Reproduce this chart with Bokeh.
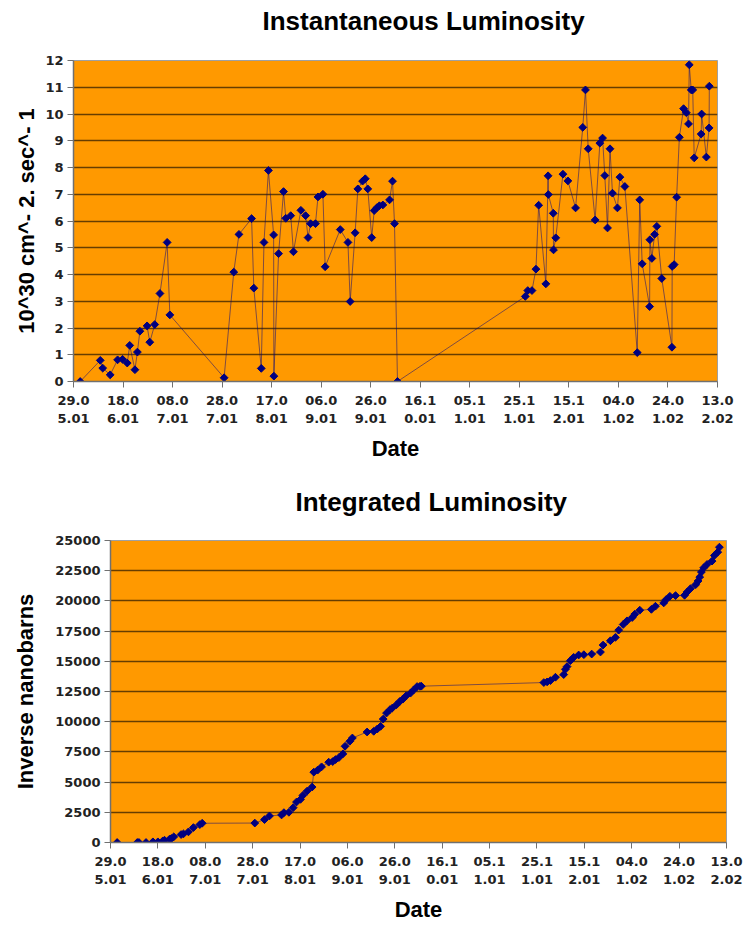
import numpy as np
from bokeh.plotting import figure
from bokeh.models import FixedTicker, Range1d, Title
from bokeh.embed import file_html
from bokeh.resources import INLINE

# ---- data ----
tick_days = [0, 20, 40, 60, 80, 100, 120, 140, 160, 180, 200, 220, 240, 260]
tick_labels = ["29.0\n5.01", "18.0\n6.01", "08.0\n7.01", "28.0\n7.01", "17.0\n8.01",
               "06.0\n9.01", "26.0\n9.01", "16.1\n0.01", "05.1\n1.01", "25.1\n1.01",
               "15.1\n2.01", "04.0\n1.02", "24.0\n1.02", "13.0\n2.02"]

inst_day = [2.7, 10.8, 11.8, 14.8, 17.8, 19.8, 21.7, 22.7, 24.8, 25.8, 26.8, 29.7, 30.8, 32.8,
            34.9, 37.8, 38.9, 60.8, 64.7, 66.8, 71.9, 72.8, 75.8, 76.9, 78.7, 80.8, 80.9, 82.8,
            84.8, 85.7, 87.7, 88.8, 91.8, 93.7, 94.7, 95.7, 97.7, 98.7, 100.7, 101.6, 107.7,
            110.8, 111.7, 113.7, 114.8, 116.7, 117.8, 118.8, 120.4, 121.4, 122.5, 123.5, 124.9,
            127.6, 128.8, 129.6, 130.8, 182.4, 183.4, 185.1, 186.7, 187.8, 190.7, 191.6, 191.7,
            193.7, 193.8, 194.7, 197.6, 199.6, 202.7, 205.6, 206.7, 207.8, 210.6, 212.5, 213.6,
            214.5, 215.6, 216.6, 217.6, 219.6, 220.6, 222.6, 227.6, 228.6, 229.6, 232.6, 232.7,
            233.5, 234.6, 235.5, 237.5, 241.6, 241.7, 242.5, 243.5, 244.6, 246.3, 247.4, 248.3,
            248.6, 249.4, 250.0, 250.6, 253.4, 253.6, 255.5, 256.6, 256.7]
inst_lum = [0.0, 0.79, 0.5, 0.25, 0.81, 0.83, 0.69, 1.35, 0.44, 1.1, 1.88, 2.08, 1.47, 2.13,
            3.29, 5.2, 2.49, 0.14, 4.09, 5.5, 6.09, 3.49, 0.49, 5.2, 7.89, 5.48, 0.2, 4.78,
            7.1, 6.1, 6.2, 4.85, 6.4, 6.2, 5.38, 5.9, 5.9, 6.9, 7.0, 4.29, 5.68,
            5.2, 2.99, 5.56, 7.2, 7.49, 7.58, 7.2, 5.38, 6.39, 6.5, 6.57, 6.6,
            6.79, 7.49, 5.9, 0.0, 3.18, 3.4, 3.4, 4.2, 6.59, 3.65, 7.69, 6.99,
            6.29, 4.92, 5.37, 7.75, 7.5, 6.49, 9.5, 10.9, 8.7, 6.04, 8.91, 9.1,
            7.7, 5.74, 8.7, 7.04, 6.49, 7.64, 7.29, 1.08, 6.79, 4.4, 2.8, 5.3,
            4.6, 5.5, 5.8, 3.85, 1.28, 4.3, 4.37, 6.89, 9.13, 10.2, 10.05, 9.63,
            11.84, 10.9, 10.9, 8.36, 9.25, 10.0, 8.39, 9.48, 11.04]

int_day = [2.8, 11.3, 12.0, 15.0, 17.9, 20.0, 22.1, 22.8, 24.9, 25.7, 26.7, 29.8, 30.8, 32.9,
           35.0, 37.7, 38.7, 60.9, 65.0, 67.1, 72.2, 73.2, 75.3, 77.1, 78.5, 80.2, 81.2, 83.0,
           85.1, 85.8, 87.4, 89.1, 92.1, 93.8, 95.0, 96.4, 98.1, 99.0, 101.0, 102.1, 108.3,
           111.1, 112.6, 114.0, 115.1, 116.5, 117.9, 118.9, 120.7, 122.1, 123.4, 124.8, 126.6,
           128.0, 129.4, 130.6, 131.2, 182.9, 184.3, 185.7, 187.8, 191.3, 192.0, 192.7, 194.1,
           195.5, 197.6, 199.8, 203.1, 206.8, 207.9, 211.0, 213.1, 214.5, 216.4, 218.0, 220.2,
           221.3, 223.4, 228.3, 230.0, 233.5, 234.5, 236.1, 238.5, 242.3, 243.4, 244.8, 247.0,
           248.0, 248.7, 249.4, 250.4, 251.8, 253.9, 254.9, 256.3, 257.0]
int_lum = [0, 0, 0, 0, 55, 55, 137, 190, 275, 330, 467, 660, 714, 880,
           1236, 1483, 1593, 1610, 1895, 2198, 2280, 2472, 2500, 2884, 3351, 3571, 3900, 4258,
           4588, 5824, 5988, 6263, 6648, 6700, 6868, 7032, 7334, 7966, 8378, 8653, 9148,
           9203, 9395, 9615, 10219, 10713, 10988, 11125, 11400, 11675, 11867, 12142, 12362,
           12636, 12911, 12930, 12940, 13240, 13295, 13405, 13680, 13900, 14340, 14560, 15054,
           15328, 15521, 15548, 15600, 15768, 16345, 16702, 16977, 17581, 18048, 18350, 18625,
           18900, 19229, 19300, 19559, 19833, 20108, 20383, 20438, 20465, 20740, 21015, 21344,
           21646, 21976, 22388, 22745, 23020, 23295, 23762, 24036, 24448]

inst_yticks = list(range(0, 13))
int_yticks = [0, 2500, 5000, 7500, 10000, 12500, 15000, 17500, 20000, 22500, 25000]

ORANGE = "#FF9900"
NAVY = "#000080"


def make_fig(title, ylabel, height, left, right, top, bottom, ymax, yticks,
             title_offset, gap, ylabel_standoff):
    p = figure(width=746, height=height, output_backend="svg", toolbar_location=None,
               x_range=Range1d(0, 260), y_range=Range1d(0, ymax),
               min_border_left=left, min_border_right=right,
               min_border_top=top, min_border_bottom=bottom)
    # spacer between the frame and the title
    p.add_layout(Title(text=" ", text_font_size="1px", standoff=gap), "above")
    p.title.text = title
    p.title.text_font = "Liberation Sans"
    p.title.text_font_style = "bold"
    p.title.text_font_size = "26px"
    p.title.text_color = "black"
    p.title.align = "left"
    p.title.offset = title_offset
    p.title.standoff = 0
    p.background_fill_color = ORANGE
    p.border_fill_color = "white"
    p.outline_line_color = "#a0a0a0"
    p.xgrid.visible = False
    p.ygrid.grid_line_color = "#000000"
    p.ygrid.grid_line_alpha = 0.6
    p.ygrid.grid_line_width = 1.5

    for ax in (p.xaxis[0], p.yaxis[0]):
        ax.axis_line_color = "#707070"
        ax.axis_line_width = 1.5
        ax.major_tick_line_color = "#707070"
        ax.major_tick_out = 6
        ax.major_tick_in = 0
        ax.minor_tick_line_color = None
        ax.major_label_text_font = "DejaVu Sans"
        ax.major_label_text_font_style = "bold"
        ax.major_label_text_font_size = "13px"
        ax.major_label_text_color = "#222222"
        ax.axis_label_text_font = "Liberation Sans"
        ax.axis_label_text_font_style = "bold"
        ax.axis_label_text_font_size = "22px"
        ax.axis_label_text_color = "black"

    p.xaxis.ticker = FixedTicker(ticks=tick_days)
    p.xaxis.major_label_overrides = {d: lab for d, lab in zip(tick_days, tick_labels)}
    p.xaxis.axis_label = "Date"
    p.xaxis.major_label_standoff = 5
    p.xaxis.axis_label_standoff = 7
    p.yaxis.ticker = FixedTicker(ticks=yticks)
    p.yaxis.axis_label = ylabel
    p.yaxis.major_label_standoff = 4
    p.yaxis.axis_label_standoff = ylabel_standoff
    return p


p1 = make_fig("Instantaneous Luminosity", "10^30 cm^- 2. sec^- 1", 470,
              73, 29, 60, 89, 12, inst_yticks, 189, 22, 3)
p1.line(inst_day, inst_lum, line_color=NAVY, line_alpha=0.5, line_width=1)
p1.scatter(inst_day, inst_lum, marker="square", angle=np.pi / 4, size=5.5,
           fill_color=NAVY, line_color=NAVY)

p2 = make_fig("Integrated Luminosity", "Inverse nanobarns", 454,
              110, 20, 70, 81, 25000, int_yticks, 185, 21, 14)
p2.line(int_day, int_lum, line_color=NAVY, line_alpha=0.5, line_width=1)
p2.scatter(int_day, int_lum, marker="square", angle=np.pi / 4, size=5.5,
           fill_color=NAVY, line_color=NAVY)

open("out.html", "w").write(file_html([p1, p2], INLINE))
